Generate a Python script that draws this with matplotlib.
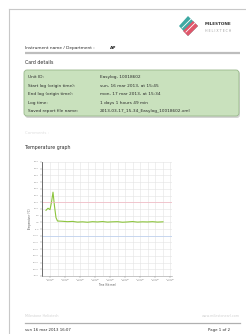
import matplotlib
matplotlib.use("Agg")
import matplotlib.pyplot as plt
from matplotlib.patches import FancyBboxPatch, Polygon

# report values
header_label = "Instrument name / Department :"
header_value = "AP"
detail_labels = ["Unit ID:", "Start log (origin time):", "End log (origin time):",
                 "Log time:", "Saved report file name:"]
detail_values = ["Easylog, 10018602", "sun, 16 mar 2013, at 15:45", "mon, 17 mar 2013, at 15:34",
                 "1 days 1 hours 49 min", "2013-03-17_15-34_Easylog_10018602.xml"]

# temperature series (hours from first tick, deg C)
hours = [-0.8, -0.4, 0.0, 0.3, 0.6, 0.9, 1.2, 1.5, 2.5, 3.5, 4.5, 5.5, 6.5, 7.5, 8.5,
         9.5, 10.5, 11.5, 12.5, 13.5, 14.5, 15.5, 16.5, 17.5, 18.5, 19.5, 20.5, 21.5, 22.6]
temps = [9.0, 10.5, 9.5, 15.0, 22.5, 12.0, 3.5, 1.0, 0.8, 0.5, 0.7, 0.2, 0.4, 0.1, 0.5,
         0.3, 0.6, 0.2, 0.4, 0.5, 0.1, 0.3, 0.6, 0.2, 0.4, 0.3, 0.5, 0.2, 0.4]
upper_limit = 15
lower_limit = -10
x_ticks = [0, 3, 6, 9, 12, 15, 18, 21, 24]
x_ticklabels = ["16 mar\n18:00", "16 mar\n21:00", "17 mar\n00:00", "17 mar\n03:00",
                "17 mar\n06:00", "17 mar\n09:00", "17 mar\n12:00", "17 mar\n15:00",
                "17 mar\n18:00"]
y_ticks = list(range(-40, 50, 5))

W, H = 246, 334
fig = plt.figure(figsize=(W / 100, H / 100), dpi=100)
fig.patch.set_facecolor("white")

# page layer in pixel coordinates
pg = fig.add_axes([0, 0, 1, 1])
pg.set_xlim(0, W)
pg.set_ylim(H, 0)
pg.axis("off")

# page edge
pg.plot([9, W], [9, 9], color="#c8c8c8", lw=0.8)
pg.plot([9, 9], [9, H], color="#c8c8c8", lw=0.8)

# logo
pg.add_patch(Polygon([[179, 26], [188, 16], [198, 26], [188, 36]], closed=True,
                     facecolor="#3ea9a3", edgecolor="none"))
pg.add_patch(Polygon([[183, 31], [193, 21], [198, 26], [188, 36]], closed=True,
                     facecolor="#e0566a", edgecolor="none"))
pg.plot([182, 192], [28, 18], color="white", lw=0.6)
pg.plot([186, 196], [32, 22], color="white", lw=0.6)
pg.text(205, 24, "MILESTONE", fontsize=3.0, fontweight="bold", color="#333333", va="center")
pg.text(205, 31, "H E L I X T E C H", fontsize=2.3, color="#a0a0a0", va="center")

# header
pg.text(25, 48, header_label, fontsize=3.1, color="#2a2a2a", va="center")
pg.text(110, 48, header_value, fontsize=3.1, fontweight="bold", color="#2a2a2a", va="center")
pg.plot([25, 240], [53, 53], color="#bdbdbd", lw=1.6, solid_capstyle="butt")
pg.text(25, 62, "Card details", fontsize=3.4, color="#2a2a2a", va="center")

# details box
pg.add_patch(FancyBboxPatch((25, 71), 215, 47, boxstyle="round,pad=0,rounding_size=3",
                            facecolor="#b9b9b9", edgecolor="none", alpha=0.6))
pg.add_patch(FancyBboxPatch((24, 70), 215, 46, boxstyle="round,pad=0,rounding_size=3",
                            facecolor="#c9e1bd", edgecolor="#97b78a", lw=0.6))
row_y = [77, 86, 94, 103, 111]
for y, lab, val in zip(row_y, detail_labels, detail_values):
    pg.text(28, y, lab, fontsize=3.1, color="#2a2a2a", va="center")
    pg.text(100, y, val, fontsize=3.1, color="#2a2a2a", va="center")

pg.text(25, 133, "Comments :", fontsize=2.8, color="#dddddd", va="center")
pg.text(25, 148, "Temperature graph", fontsize=3.4, color="#2a2a2a", va="center")

# footer
pg.text(25, 316, "Milestone Helixtech", fontsize=2.4, color="#d0d0d0", va="center")
pg.text(240, 316, "www.milestonesrl.com", fontsize=2.4, color="#d0d0d0", va="center", ha="right")
pg.plot([25, 240], [323, 323], color="#b0b0b0", lw=0.9)
pg.text(25, 330, "sun 16 mar 2013 16:07", fontsize=2.8, color="#2a2a2a", va="center")
pg.text(230, 330, "Page 1 of 2", fontsize=2.8, color="#2a2a2a", va="center", ha="right")

# chart
ax = fig.add_axes([42 / W, 1 - 276 / H, 130 / W, 114 / H])
ax.set_xlim(-1.6, 24.4)
ax.set_ylim(-40, 45)
ax.plot(hours, temps, color="#8cc43c", lw=0.8)
ax.axhline(upper_limit, color="#f2b5c0", lw=0.5)
ax.axhline(lower_limit, color="#b8cdf0", lw=0.5)
ax.set_xticks(x_ticks)
ax.set_xticklabels(x_ticklabels, fontsize=1.6, color="#555555")
ax.set_xticks([t + 1.5 for t in x_ticks[:-1]], minor=True)
ax.set_yticks(y_ticks)
ax.set_yticklabels([f"{v:.1f}" for v in y_ticks], fontsize=1.6, color="#555555")
ax.grid(True, which="both", color="#e3e3e3", lw=0.4)
ax.tick_params(length=1.2, width=0.3, pad=1, colors="#888888")
ax.tick_params(which="minor", length=0)
for s in ["top", "right"]:
    ax.spines[s].set_visible(False)
ax.spines["left"].set_color("#555555")
ax.spines["left"].set_linewidth(0.6)
ax.spines["bottom"].set_color("#999999")
ax.spines["bottom"].set_linewidth(0.4)
ax.set_xlabel("Time (hh:mm)", fontsize=1.8, color="#555555", labelpad=1)
ax.set_ylabel("Temperature (°C)", fontsize=1.8, color="#555555", labelpad=1)

fig.savefig("out.png", dpi=100)
